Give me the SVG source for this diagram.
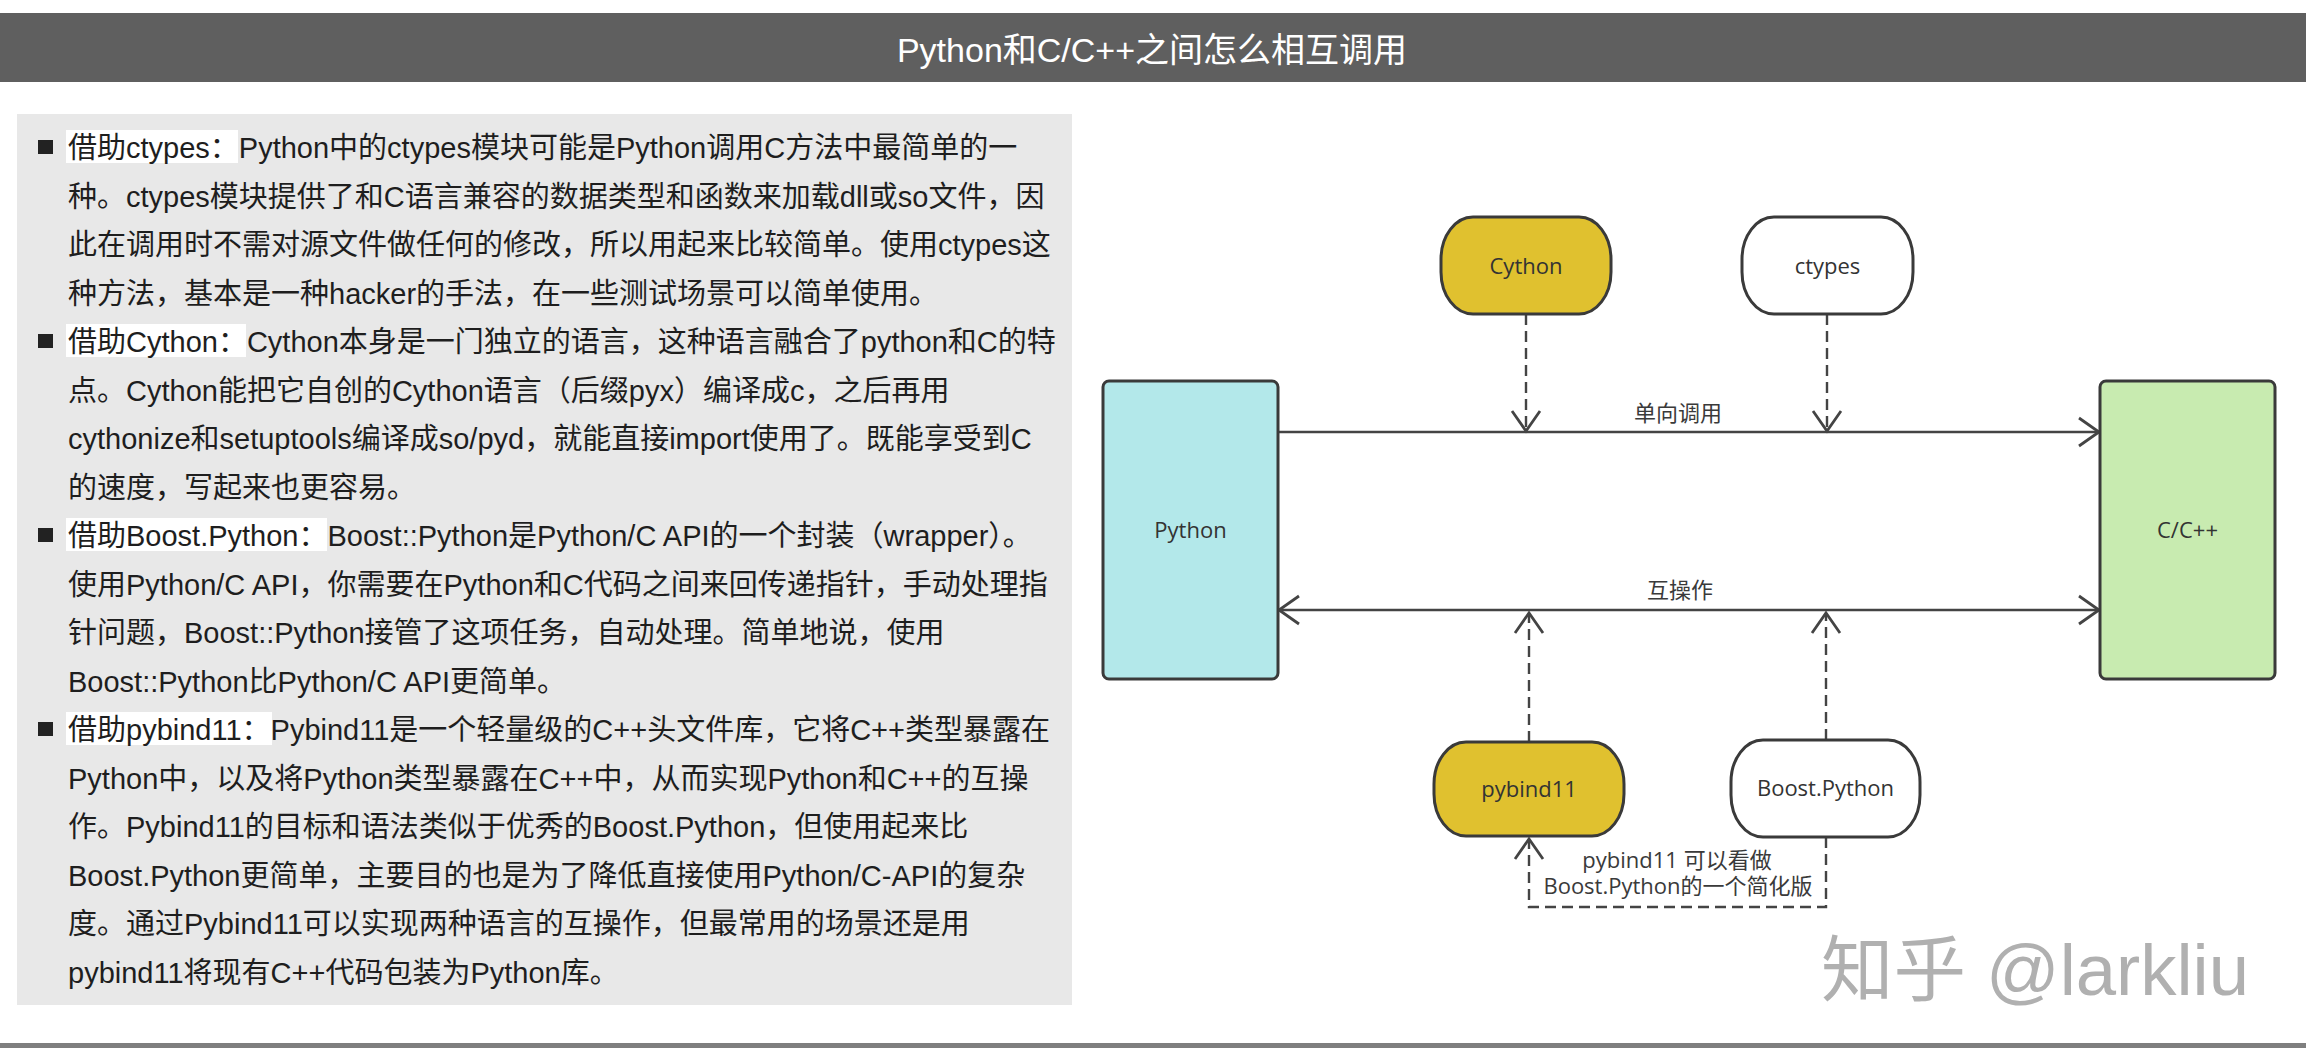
<svg xmlns="http://www.w3.org/2000/svg" width="2306" height="1063" viewBox="0 0 2306 1063">
  <defs>
    <style>
      .title { font-family: "Liberation Sans", "Noto Sans CJK SC", sans-serif; font-size: 34px; fill: #ffffff; }
      .body { font-family: "Liberation Sans", "Noto Sans CJK SC", sans-serif; font-size: 29px; fill: #1e1e1e; }
      .hl { fill: #ffffff; }
      .bullet { fill: #222222; }
      .node { stroke: #3a3a3a; stroke-width: 3; }
      .lbl { font-family: "Open Sans", "Noto Sans CJK SC", sans-serif; font-size: 22px; fill: #333333; text-anchor: middle; }
      .elbl { font-family: "Open Sans", "Noto Sans CJK SC", sans-serif; font-size: 22px; fill: #3a3a3a; text-anchor: middle; }
      .solid { fill: none; stroke: #444444; stroke-width: 2.6; }
      .dash { fill: none; stroke: #444444; stroke-width: 2.4; stroke-dasharray: 11 6; }
      .wm { font-family: "Liberation Sans", "Noto Sans CJK SC", sans-serif; font-size: 72px; fill: #b0b0b0; }
    </style>
    <marker id="arr" markerUnits="userSpaceOnUse" viewBox="-26 -18 30 36" markerWidth="30" markerHeight="36" refX="0" refY="0" orient="auto-start-reverse" overflow="visible">
      <path d="M-20,-14 L0,0 L-20,14" fill="none" stroke="#444444" stroke-width="2.8" stroke-dasharray="none"/>
    </marker>
  </defs>

  <rect x="0" y="0" width="2306" height="1063" fill="#ffffff"/>

  <g id="title">
    <rect x="0" y="13" width="2306" height="69" fill="#5f5f5f"/>
    <text class="title" x="1152" y="62" text-anchor="middle">Python和C/C++之间怎么相互调用</text>
  </g>

  <g id="text-panel">
    <rect x="17" y="114" width="1055" height="891" fill="#e8e8e8"/>
    <rect class="hl" x="66" y="130" width="172" height="33"/>
    <rect class="hl" x="66" y="324" width="180" height="33"/>
    <rect class="hl" x="66" y="518" width="261" height="33"/>
    <rect class="hl" x="66" y="712" width="206" height="33"/>
    <rect class="bullet" x="38" y="140" width="15" height="14"/>
    <rect class="bullet" x="38" y="334" width="15" height="14"/>
    <rect class="bullet" x="38" y="528" width="15" height="14"/>
    <rect class="bullet" x="38" y="722" width="15" height="14"/>
    <text class="body" x="68" y="158">借助ctypes：Python中的ctypes模块可能是Python调用C方法中最简单的一</text>
    <text class="body" x="68" y="206.5">种。ctypes模块提供了和C语言兼容的数据类型和函数来加载dll或so文件，因</text>
    <text class="body" x="68" y="255">此在调用时不需对源文件做任何的修改，所以用起来比较简单。使用ctypes这</text>
    <text class="body" x="68" y="303.5">种方法，基本是一种hacker的手法，在一些测试场景可以简单使用。</text>
    <text class="body" x="68" y="352">借助Cython：Cython本身是一门独立的语言，这种语言融合了python和C的特</text>
    <text class="body" x="68" y="400.5">点。Cython能把它自创的Cython语言（后缀pyx）编译成c，之后再用</text>
    <text class="body" x="68" y="449">cythonize和setuptools编译成so/pyd，就能直接import使用了。既能享受到C</text>
    <text class="body" x="68" y="497.5">的速度，写起来也更容易。</text>
    <text class="body" x="68" y="546">借助Boost.Python：Boost::Python是Python/C API的一个封装（wrapper）。</text>
    <text class="body" x="68" y="594.5">使用Python/C API，你需要在Python和C代码之间来回传递指针，手动处理指</text>
    <text class="body" x="68" y="643">针问题，Boost::Python接管了这项任务，自动处理。简单地说，使用</text>
    <text class="body" x="68" y="691.5">Boost::Python比Python/C API更简单。</text>
    <text class="body" x="68" y="740">借助pybind11：Pybind11是一个轻量级的C++头文件库，它将C++类型暴露在</text>
    <text class="body" x="68" y="788.5">Python中，以及将Python类型暴露在C++中，从而实现Python和C++的互操</text>
    <text class="body" x="68" y="837">作。Pybind11的目标和语法类似于优秀的Boost.Python，但使用起来比</text>
    <text class="body" x="68" y="885.5">Boost.Python更简单，主要目的也是为了降低直接使用Python/C-API的复杂</text>
    <text class="body" x="68" y="934">度。通过Pybind11可以实现两种语言的互操作，但最常用的场景还是用</text>
    <text class="body" x="68" y="982.5">pybind11将现有C++代码包装为Python库。</text>
  </g>

  <g id="connectors">
    <line class="solid" x1="1278" y1="432" x2="2099" y2="432" marker-end="url(#arr)"/>
    <line class="solid" x1="1279" y1="610" x2="2099" y2="610" marker-start="url(#arr)" marker-end="url(#arr)"/>
    <line class="dash" x1="1526" y1="314" x2="1526" y2="431" marker-end="url(#arr)"/>
    <line class="dash" x1="1827" y1="314" x2="1827" y2="431" marker-end="url(#arr)"/>
    <line class="dash" x1="1529" y1="742" x2="1529" y2="613" marker-end="url(#arr)"/>
    <line class="dash" x1="1826" y1="740" x2="1826" y2="613" marker-end="url(#arr)"/>
    <polyline class="dash" points="1826,837 1826,907 1529,907 1529,839" marker-end="url(#arr)"/>
    <text class="elbl" x="1678" y="421">单向调用</text>
    <text class="elbl" x="1680" y="598">互操作</text>
    <text class="elbl" x="1677" y="868">pybind11 可以看做</text>
    <text class="elbl" x="1678" y="894">Boost.Python的一个简化版</text>
  </g>

  <g id="node-python">
    <rect class="node" x="1103" y="381" width="175" height="298" rx="6" fill="#b3e8ea"/>
    <text class="lbl" x="1190.5" y="538">Python</text>
  </g>
  <g id="node-cpp">
    <rect class="node" x="2100" y="381" width="175" height="298" rx="6" fill="#c8ebb0"/>
    <text class="lbl" x="2187.5" y="538">C/C++</text>
  </g>
  <g id="node-cython">
    <rect class="node" x="1441" y="217" width="170" height="97" rx="32" ry="42" fill="#e0c12f"/>
    <text class="lbl" x="1526" y="274">Cython</text>
  </g>
  <g id="node-ctypes">
    <rect class="node" x="1742" y="217" width="171" height="97" rx="32" ry="42" fill="#ffffff"/>
    <text class="lbl" x="1827.5" y="274">ctypes</text>
  </g>
  <g id="node-pybind11">
    <rect class="node" x="1434" y="742" width="190" height="94" rx="32" ry="42" fill="#e0c12f"/>
    <text class="lbl" x="1529" y="797">pybind11</text>
  </g>
  <g id="node-boost">
    <rect class="node" x="1731" y="740" width="189" height="97" rx="32" ry="42" fill="#ffffff"/>
    <text class="lbl" x="1825.5" y="796">Boost.Python</text>
  </g>

  <g id="watermark">
    <text class="wm" x="1821" y="995" textLength="428" lengthAdjust="spacingAndGlyphs">知乎 @larkliu</text>
  </g>

  <rect x="0" y="1043" width="2306" height="5" fill="#7f7f7f"/>
</svg>
